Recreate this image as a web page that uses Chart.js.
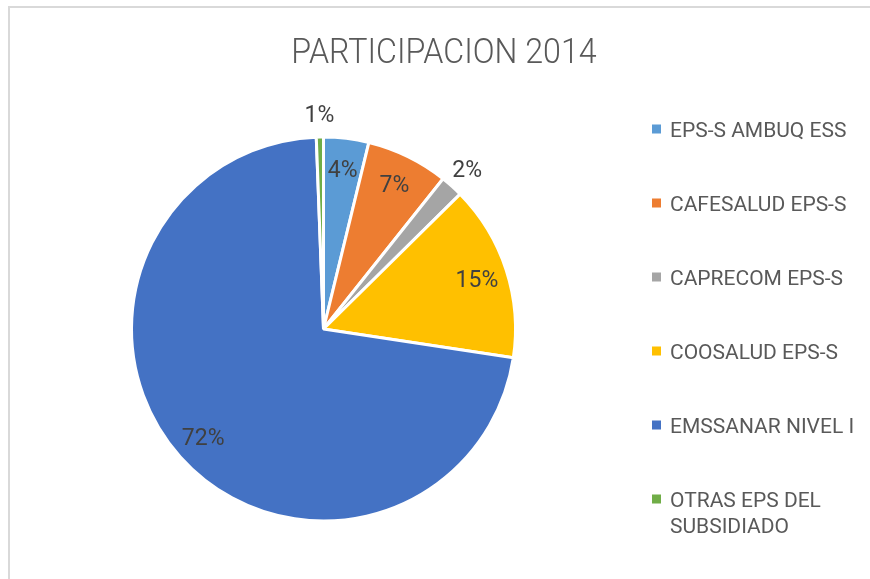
<!DOCTYPE html>
<html><head><meta charset="utf-8">
<script src="https://cdn.jsdelivr.net/npm/chart.js@4"></script>
<style>
html,body{margin:0;padding:0;background:#fff;width:870px;height:579px;overflow:hidden}
#wrap{position:absolute;left:0;top:0;width:870px;height:579px}
#frame{position:absolute;left:8px;top:6px;right:0;bottom:0;border-top:2px solid #d9d9d9;border-left:2px solid #d9d9d9;pointer-events:none}
</style></head><body>
<div id="wrap"><canvas id="c" width="870" height="579"></canvas></div>
<div id="frame"></div>
<script>
const TITLE = 'PARTICIPACION 2014';
const categories = ['EPS-S AMBUQ ESS', 'CAFESALUD EPS-S', 'CAPRECOM EPS-S', 'COOSALUD EPS-S', 'EMSSANAR NIVEL I', 'OTRAS EPS DEL SUBSIDIADO'];
const values = [3.8, 6.9, 1.9, 14.8, 72.0, 0.6];
const colors = ['#5B9BD5', '#ED7D31', '#A5A5A5', '#FFC000', '#4472C4', '#70AD47'];

const FONT = 'Roboto, "Liberation Sans", sans-serif';

function wrapText(ctx, text, maxW) {
  const words = text.split(' ');
  const lines = [];
  let cur = '';
  words.forEach(w => {
    const t = cur ? cur + ' ' + w : w;
    if (ctx.measureText(t).width > maxW && cur) { lines.push(cur); cur = w; }
    else cur = t;
  });
  if (cur) lines.push(cur);
  return lines;
}

const decor = {
  id: 'decor',
  afterDraw(chart) {
    const ctx = chart.ctx;
    const meta = chart.getDatasetMeta(0);
    const total = values.reduce((a, b) => a + b, 0);
    ctx.save();
    // data labels
    const lf = 23;
    ctx.font = lf + 'px ' + FONT;
    ctx.fillStyle = '#404040';
    ctx.textAlign = 'center';
    ctx.textBaseline = 'alphabetic';
    meta.data.forEach((arc, i) => {
      const p = arc.getProps(['x', 'y', 'startAngle', 'endAngle', 'outerRadius'], true);
      const mid = (p.startAngle + p.endAngle) / 2;
      const pct = values[i] / total * 100;
      const r = pct < 3 ? p.outerRadius * 1.12 : p.outerRadius * 0.84;
      const cx = p.x + Math.cos(mid) * r;
      const cy = p.y + Math.sin(mid) * r;
      ctx.fillText(Math.round(pct) + '%', cx, cy + lf * 0.355);
    });
    // title
    ctx.save();
    ctx.font = '300 35px ' + FONT;
    ctx.fillStyle = '#595959';
    ctx.textAlign = 'center';
    ctx.translate(444, 63);
    ctx.scale(0.92, 1);
    ctx.fillText(TITLE, 0, 0);
    ctx.restore();
    // legend
    const gf = 21;
    ctx.font = gf + 'px ' + FONT;
    ctx.textAlign = 'left';
    const rowGap = 74, lineH = 26;
    categories.forEach((lab, i) => {
      const capC = 129 + i * rowGap;
      ctx.fillStyle = colors[i];
      ctx.fillRect(652, capC - 4.5, 9, 9);
      ctx.fillStyle = '#595959';
      const lines = wrapText(ctx, lab, 192);
      lines.forEach((ln, j) => ctx.fillText(ln, 670, capC + 7.5 + j * lineH));
    });
    ctx.restore();
  }
};

new Chart(document.getElementById('c'), {
  type: 'pie',
  data: {
    labels: categories,
    datasets: [{
      data: values,
      backgroundColor: colors,
      borderColor: '#ffffff',
      borderWidth: 3
    }]
  },
  options: {
    responsive: false,
    animation: false,
    events: [],
    layout: { padding: { left: 130, right: 353, top: 135.5, bottom: 56.5 } },
    plugins: { legend: { display: false }, title: { display: false }, tooltip: { enabled: false } }
  },
  plugins: [decor]
});
</script>
</body></html>
